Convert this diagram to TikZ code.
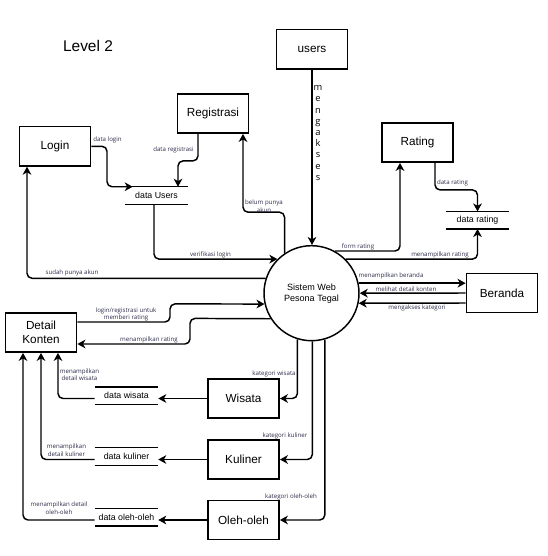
\documentclass[tikz,border=0pt]{standalone}
\usepackage{fontspec}
\setmainfont{Liberation Sans}
\newfontfamily\lblfont{Open Sans}
\usetikzlibrary{arrows.meta,calc}
\definecolor{lblc}{RGB}{45,45,75}
\begin{document}
\begin{tikzpicture}[x=0.75pt,y=-0.75pt,
  box/.style={draw, line width=1.1pt, minimum width=53.5pt, minimum height=29.5pt, inner sep=0pt, font=\fontsize{8.8}{10.5}\selectfont, align=center},
  store/.style={minimum width=47.25pt, minimum height=12.75pt, inner sep=0pt, font=\fontsize{6.6}{8}\selectfont},
  storeline/.style={line width=1.1pt},
  conn/.style={line width=1.1pt, rounded corners=3.75pt, -{Stealth[length=6pt,width=6.5pt,inset=1.8pt]}},
  lbl/.style={font=\lblfont\fontsize{4.6}{5.6}\selectfont, text=lblc, align=center, inner sep=0pt},
]
\path[use as bounding box, fill=white] (0,0) rectangle (548,556);

% title
\node[font=\fontsize{11.6}{14}\selectfont] (title) at (88,46) {Level 2};

% boxes
\node[box] (users) at (312,49.3) {users};
\node[box] (Reg) at (213,113.5) {Registrasi};
\node[box] (Login) at (55,146.3) {Login};
\node[box] (Rating) at (417.5,142.5) {Rating};
\node[box] (Beranda) at (502,293) {Beranda};
\node[box, font=\fontsize{8.8}{10.8}\selectfont] (DK) at (41,332.5) {Detail\\Konten};
\node[box] (Wisata) at (243.5,398.5) {Wisata};
\node[box] (Kuliner) at (243.5,459.5) {Kuliner};
\node[box] (Oleh) at (243.5,520) {Oleh-oleh};

% central process
\node[draw, circle, line width=1.1pt, minimum size=71.25pt, inner sep=0pt, align=center,
      font=\fontsize{6.8}{8.2}\selectfont] (sys) at (311.5,293.2) {Sistem Web\\Pesona Tegal};

% data stores
\node[store] (DU) at (156.5,195.5) {data Users};
\node[store] (DR) at (477.5,220.2) {data rating};
\node[store] (DW) at (126.5,395.8) {data wisata};
\node[store] (DKu) at (126.5,456.5) {data kuliner};
\node[store] (DO) at (126.5,517.3) {data oleh-oleh};
\foreach \s in {DU,DR,DW,DKu,DO}{
  \draw[storeline] (\s.north west) -- (\s.north east) (\s.south west) -- (\s.south east);
}

% connectors
\draw[conn] (users.south) -- (users.south |- sys.north);
\draw[conn] (Login.east) -- (107,146.3) |- ($(DU.north west)+(8,0)$);
\draw[conn] ($(Reg.south)+(-15,0)$) -- ++(0,27) -| ($(DU.north)+(21.5,0)$);
\draw[conn] ($(DU.south)+(-2.5,0)$) |- (sys.135);
\draw[conn] (sys.162) -| ($(Login.south)+(-28,0)$);
\draw[conn] (sys.124) -- ++(0,-41) -| ($(Reg.south)+(30,0)$);
\draw[conn] (sys.61) -| ($(Rating.south)+(-17.5,0)$);
\draw[conn] (sys.45) -| (DR.south);
\draw[conn] ($(Rating.south)+(17.5,0)$) -- ++(0,27) -| (DR.north);
\draw[conn] (sys.12) -- (sys.12 -| Beranda.west);
\draw[conn] (Beranda.west) -- (sys.east);
\draw[conn] ($(Beranda.west)+(0,10)$) -- (sys.-12);
\draw[conn] ($(DK.east)+(0,-10.5)$) -- (170,322) -- (170,303.9) -- (sys.193);
\draw[conn] (sys.212) -- (190,318.4) -- (190,344) -- ($(DK.east)+(0,11.5)$);
\draw[conn] (sys.253) |- (Wisata.east);
\draw[conn] (sys.271) |- (Kuliner.east);
\draw[conn] (sys.286) |- (Oleh.east);
\draw[conn] (Wisata.west) -- (Wisata.west -| DW.east);
\draw[conn] (Kuliner.west) -- (Kuliner.west -| DKu.east);
\draw[conn] (Oleh.west) -- (Oleh.west -| DO.east);
\draw[conn] (DW.west |- Wisata.west) -| ($(DK.south)+(17,0)$);
\draw[conn] (DKu.west |- Kuliner.west) -| (DK.south);
\draw[conn] (DO.west |- Oleh.west) -| ($(DK.south)+(-18,0)$);

% labels
\node[font=\lblfont\fontsize{7}{8.4}\selectfont, align=center, inner sep=0pt] (mg) at (318,133) {m\\e\\n\\g\\a\\k\\s\\e\\s};
\node[lbl] (l1) at (107.5,140) {data login};
\node[lbl] (l2) at (173.5,150) {data registrasi};
\node[lbl] (l3) at (210.5,255) {verifikasi login};
\node[lbl] (l4) at (72,273.3) {sudah punya akun};
\node[lbl] (l5) at (264,206) {belum punya\\akun};
\node[lbl] (l6) at (358,246.5) {form rating};
\node[lbl] (l7) at (440,255) {menampilkan rating};
\node[lbl] (l8) at (452.5,182.7) {data rating};
\node[lbl] (l9) at (391,276) {menampilkan beranda};
\node[lbl] (l10) at (406,289.5) {melihat detail konten};
\node[lbl] (l11) at (417,308) {mengakses kategori};
\node[lbl] (l12) at (126,314.5) {login/registrasi untuk\\memberi rating};
\node[lbl] (l13) at (149,340) {menampilkan rating};
\node[lbl] (l14) at (274,374) {kategori wisata};
\node[lbl] (l15) at (285,436) {kategori kuliner};
\node[lbl] (l16) at (291,497) {kategori oleh-oleh};
\node[lbl] (l17) at (79.5,374.5) {menampilkan\\detail wisata};
\node[lbl] (l18) at (66.5,450) {menampilkan\\detail kuliner};
\node[lbl] (l19) at (59,508) {menampilkan detail\\oleh-oleh};
\end{tikzpicture}
\end{document}
